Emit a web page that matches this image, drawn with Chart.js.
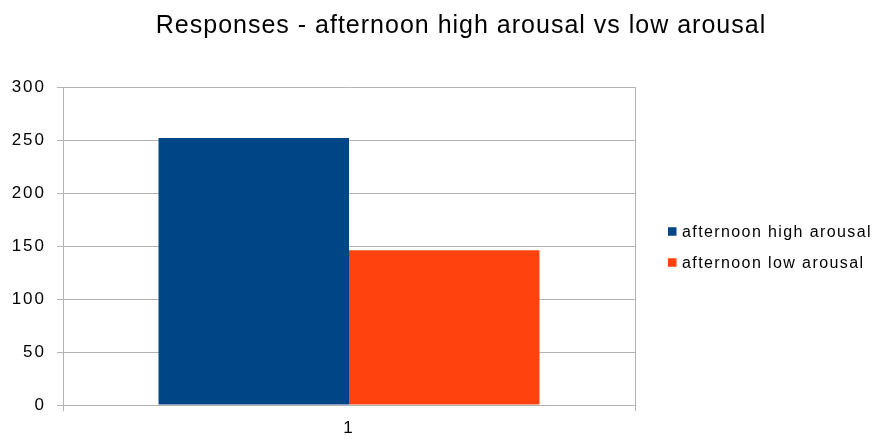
<!DOCTYPE html>
<html>
<head>
<meta charset="utf-8">
<script src="https://cdn.jsdelivr.net/npm/chart.js@4.4.0/dist/chart.umd.min.js"></script>
<style>
  html, body { margin: 0; padding: 0; background: #ffffff; }
  #wrap { width: 875px; height: 439px; position: relative; }
</style>
</head>
<body>
<div id="wrap"><canvas id="c" width="875" height="439"></canvas></div>
<script>
// Chart data
const chartTitle = 'Responses - afternoon high arousal vs low arousal';
const categories = ['1'];
const seriesNames = ['afternoon high arousal', 'afternoon low arousal'];
const highArousal = [252];
const lowArousal = [146];
const seriesColors = ['#004586', '#ff420e'];
const yTicks = [0, 50, 100, 150, 200, 250, 300];

const FONT = '"Liberation Sans", Arial, sans-serif';
const GRID = '#b3b3b3';

// Slightly widened letter spacing for the axis labels
const spacing = {
  id: 'spacing',
  beforeDraw(chart) { chart.ctx.letterSpacing = '2px'; }
};

// Title and legend drawn on the canvas next to the plot area
const decorations = {
  id: 'decorations',
  afterDraw(chart) {
    const ctx = chart.ctx;
    ctx.save();
    ctx.fillStyle = '#000';
    ctx.letterSpacing = '1px';
    ctx.font = '25px ' + FONT;
    ctx.textAlign = 'center';
    ctx.textBaseline = 'alphabetic';
    ctx.fillText(chartTitle, 461, 33);

    ctx.letterSpacing = '1.4px';
    ctx.font = '16px ' + FONT;
    ctx.textAlign = 'left';
    const rows = [231.5, 262.5];
    chart.data.datasets.forEach((ds, i) => {
      const y = rows[i];
      ctx.fillStyle = ds.backgroundColor;
      ctx.fillRect(668, y - 4.25, 8.5, 8.5);
      ctx.fillStyle = '#000';
      ctx.fillText(ds.label, 682, y + 5.5);
    });
    ctx.restore();
  }
};

new Chart(document.getElementById('c'), {
  type: 'bar',
  data: {
    labels: categories,
    datasets: [
      { label: seriesNames[0], data: highArousal, backgroundColor: seriesColors[0] },
      { label: seriesNames[1], data: lowArousal, backgroundColor: seriesColors[1] }
    ]
  },
  options: {
    responsive: false,
    animation: false,
    devicePixelRatio: 1,
    layout: { padding: { top: 87, right: 240, bottom: 0, left: 0 } },
    plugins: {
      legend: { display: false },
      title: { display: false },
      tooltip: { enabled: false }
    },
    datasets: {
      bar: { categoryPercentage: 0.666, barPercentage: 1.0, borderWidth: 0 }
    },
    scales: {
      x: {
        afterFit: s => { s.height = 34; },
        grid: { color: GRID, lineWidth: 1, tickLength: 6, offset: true, drawOnChartArea: true },
        border: { color: GRID, width: 1 },
        ticks: { color: '#000', font: { family: FONT, size: 17 }, padding: 7 }
      },
      y: {
        min: 0,
        max: 300,
        afterFit: s => { s.width = 63; },
        afterBuildTicks: s => { s.ticks = yTicks.map(v => ({ value: v })); },
        grid: { color: GRID, lineWidth: 1, tickLength: 6 },
        border: { color: GRID, width: 1 },
        ticks: { color: '#000', font: { family: FONT, size: 17 }, padding: 11 }
      }
    }
  },
  plugins: [spacing, decorations]
});
</script>
</body>
</html>
